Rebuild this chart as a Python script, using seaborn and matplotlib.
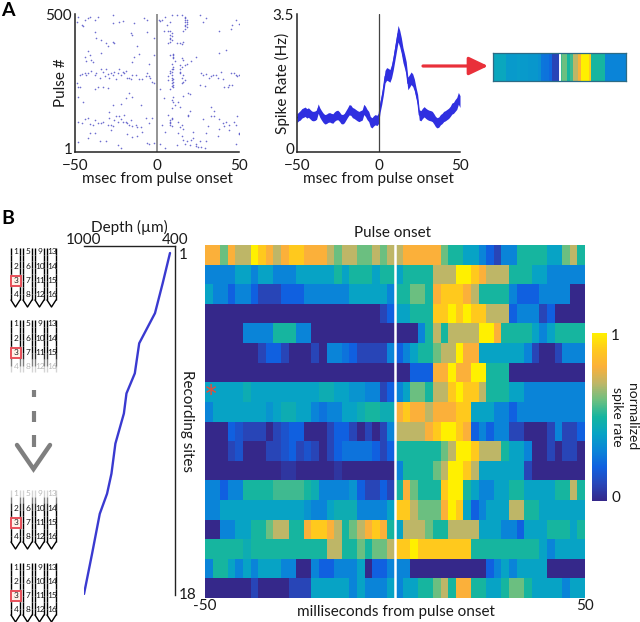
import numpy as np
import pandas as pd
import matplotlib
matplotlib.use("Agg")
import matplotlib.pyplot as plt
import seaborn as sns
from matplotlib.colors import LinearSegmentedColormap
from matplotlib.transforms import ScaledTranslation

W, H = 640, 622

# raster, panel A
spike_ms = [-49,-48,-46,-45,-44,-42,-41,-38,-36,-27,-27,-23,-21,-14,-8,-6,
    -38,-37,-34,-31,-27,-26,-16,-15,-12,-6,-2,-42,-44,-41,-40,-43,-39,-14,-15,-34,-30,-11,-5,-2,
    -47,-46,-42,-38,-37,-34,-33,-32,-30,-29,-28,-26,-25,-23,-22,-21,-20,-19,-18,-16,-15,-13,-11,-9,-7,-6,-5,-4,-3,-2,-44,-43,-40,-35,-31,-27,-24,-17,-49,-48,
    -47,-38,-36,-33,-30,-27,-22,-19,-17,-15,-10,-45,-48,-29,
    -48,-46,-42,-39,-36,-34,-33,-30,-29,-27,-25,-24,-22,-21,-20,-18,-17,-16,-15,-13,-12,-10,-7,-5,-3,-38,-41,-44,-28,-26,-19,-23,
    -42,-41,-35,-31,-28,-24,-22,-18,-12,-9,-6,-5,-2,-48,-38,-15,
    8,8,8,9,9,8,9,7,8,9,9,10,10,9,10,10,10,9,9,9,10,8,7,9,8,9,10,10,11,10,10,9,8,8,9,8,7,8,9,8,10,10,11,9,9,
    17,17,17,18,17,18,17,17,18,16,18,17,14,15,16,15,16,14,15,17,18,16,15,14,17,15,16,14,19,16,13,15,14,16,13,15,16,18,17,19,20,14,13,
    1,3,5,7,8,9,12,15,26,30,38,46,48,50,2,4,6,45,28,
    2,4,8,12,14,21,24,27,28,30,32,34,36,37,39,42,45,47,48,49,50,43,44,26,29,33,38,40,41,46,
    3,5,12,22,24,25,28,31,33,35,38,40,42,44,47,49,50,26,29,20,22,30,37,41,44,48,35,33,2,5,7,19,21,24,27,30,38,50,48,20]
spike_pulse = [470,490,462,455,478,485,490,480,488,495,468,472,474,468,484,478,
    435,415,405,395,400,395,430,425,385,435,415,365,345,350,335,330,325,345,325,360,385,355,320,350,
    280,282,285,278,285,300,290,275,282,270,285,290,265,300,280,290,285,295,270,265,280,280,265,265,275,285,275,270,255,250,285,280,295,270,300,280,285,268,250,235,
    235,230,235,235,232,170,175,195,215,200,170,180,200,145,
    110,105,125,100,105,105,108,100,125,95,130,110,120,110,135,105,100,118,95,100,90,92,125,105,125,115,102,120,98,115,110,130,
    50,70,40,42,80,28,15,65,60,75,35,30,35,38,70,55,
    105,110,115,95,120,100,125,275,285,270,260,255,245,250,300,310,235,290,280,300,265,295,260,240,230,320,345,350,330,340,355,420,425,440,430,400,395,410,405,415,200,180,170,190,160,
    490,478,470,465,458,452,445,460,480,440,472,485,395,390,400,340,335,300,310,315,320,280,270,285,260,250,255,290,215,205,110,100,90,85,70,60,45,40,30,135,150,165,180,
    480,478,490,440,470,495,495,495,495,485,440,460,480,465,475,440,462,445,470,
    230,195,350,395,315,330,345,285,280,282,270,280,280,270,290,370,285,285,280,275,278,235,242,245,240,275,360,265,235,245,
    100,75,25,50,30,20,120,95,130,130,120,105,110,100,110,130,65,40,15,25,75,70,60,95,80,100,150,165,30,15,135,130,45,22,18,40,85,70,30,210]

# mean spike rate, one value per ms from -50 to 50
rate_hz = [.86,.90,.93,.98,1.00,1.02,.98,1.00,.96,.92,
    .91,.92,.95,1.10,1.00,.93,.87,.83,.84,.87,
    .88,.86,.85,.90,.93,.94,.90,.84,.83,.86,
    .93,1.00,1.07,1.06,1.00,.98,.95,.92,.90,.92,
    .94,1.08,1.03,.95,.90,.77,.74,.79,.82,.80,
    .85,1.15,1.35,1.60,1.91,1.98,1.96,1.93,2.05,2.25,
    2.50,2.75,3.00,2.88,2.70,2.46,2.30,2.12,1.74,1.80,
    1.87,1.82,1.70,1.50,1.32,.94,.92,.98,1.02,.98,
    .95,.93,.92,.90,.84,.77,.74,.76,.82,.85,
    .90,.92,.95,.98,1.03,1.10,1.12,1.18,1.23,1.36,1.28]
rate_err = [.11,.11,.12,.12,.12,.12,.12,.12,.12,.12,
    .12,.12,.12,.12,.12,.12,.12,.12,.12,.12,
    .12,.12,.12,.12,.12,.12,.12,.12,.12,.12,
    .12,.12,.13,.13,.13,.13,.13,.13,.13,.13,
    .13,.13,.13,.13,.13,.13,.13,.13,.13,.13,
    .13,.14,.14,.15,.16,.16,.16,.16,.17,.18,
    .19,.20,.21,.21,.20,.19,.18,.17,.16,.16,
    .16,.16,.15,.14,.14,.13,.13,.13,.13,.13,
    .13,.13,.13,.13,.13,.13,.13,.13,.13,.13,
    .13,.13,.13,.13,.13,.14,.14,.15,.15,.15,.15]

# colour strip next to the arrow, levels 0-10
strip_levels = [4.2,4.2,4.2,4.2,4.2,3.7,3.7,3.7,3.7,3.8,3.7,3.7,3.7,3.6,3.6,3.6,3.6,3.4,2.6,2.5,2.5,2.2,1,1,1,
    5.5,6,6,5,5.5,7,7,8,10,10,10,9,5,5,5,5,5,3,3,3,3,3,3,3,3]

# depth of each recording site (um)
site_number = list(range(1, 19))
site_depth = [433,481,481,532,636,636,665,720,737,793,793,819,848,896,947,947,947,1000]

# heatmap rows, levels 0-10 (10 = normalized rate of 1), 50 bins per row
row01 = [8,8,6,8,7,7,10,9,8,7,8,9,9,8,8,8,7,6,7,7,6,6,7,6,7, 7,8,8,8,8,8,6,5,5,4,4,3,2,1,3,3,5,5,5,5,4,4,6,7,5]
row02 = [3,3,3,3,4,4,3,4,4,3,3,3,4,4,4,4,4,5,4,5,5,5,4,5,5, 4,5,5,5,5,7,7,7,10,10,9,8,7,7,7,5,5,5,4,4,3,3,3,3,3]
row03 = [4,3,3,2,3,3,2,1,1,1,2,2,2,3,3,3,3,3,3,4,4,4,4,4,3, 5,5,6,6,5,8,9,9,9,8,7,5,5,5,5,3,2,2,2,3,3,3,3,0,0]
row04 = [0,0,0,0,0,0,0,0,0,0,0,0,0,0,0,0,0,0,0,0,0,0,0,1,2, 4,4,5,5,5,9,9,10,9,10,9,9,7,7,7,2,3,3,3,1,2,0,0,0,0]
row05 = [0,0,0,0,0,3,3,3,3,5,5,5,3,3,0,0,0,0,0,0,0,0,0,0,0, 0,0,0,3,5,7,5,7,7,7,7,10,10,8,5,5,5,5,4,3,4,5,5,5,5]
row06 = [0,0,0,0,0,0,0,1,2,2,1,0,0,0,1,0,3,3,2.5,2,1,1,1,1,3, 2,3,4,5,5,6,7,7,10,8,8,4,4,4,4,4,4,3,1,0,0,1,3,3,3]
row07 = [0,0,0,0,0,0,0,0,0,0,0,0,0,0,0,0,0,0,0,0,0,0,0,0,0, 0,0,2,2,2,8,8,10,8,8,10,10,5,5,5,0,0,0,0,0,0,0,0,0,0]
row08 = [4,4,4,4,4,4.5,4,4,4,4,4,4,4,4,4,4.5,4.5,4,4,3.5,3.5,3,3,1,2, 3,4,6,6,5,7,7,9,10,9,9,7,5,5,5,4,4,3,3,3,3,3,3,3,3]
row09 = [3,4,4,4,4,4,4,4,3.5,4,4.5,4.5,4,4,3,2.5,3,3,4,4,4.5,5,5,4.5,4.5, 8,9,8,8,7,8,8,8,9,9,4,4,4,3,3,2,3,3,3,3,3,3,3,3,3]
row10 = [0,0,0,2,1.5,1,1,1,0,1,1.5,2,2,0,0,0,1,2,2,1,0,1,0,1,3, 7,7,7,7,8,9,10,10,9,8,2,3,2,3,3,1,1,0,0,0,1,3,1,1,2]
row11 = [0,0,0,1,1.5,0,0,0,1,1,1.5,2,1,1.5,1,0,1,2,2.5,2.5,2.5,2.5,2,1,2, 5,5,5,5,5,5,6,7,10,10,9,7,7,7,5,4,4,3,0,0,1,0,1,1,0]
row12 = [0,0,0,0,0,0,0,0,0,0,.5,.5,0,0,0,0,0,.5,0,0,0,0,0,0,0, 3,5,5,5,5,6,7,10,10,9,7,4,4,4,4,4,4,1,0,0,0,0,0,0,0]
row13 = [3,3,2,3,3,5,5,5,5,5.5,5.5,5.5,5.5,5,4.5,3,3,3,3,3.5,2,1,1,2,1, 5,8,6,5,5,5,9,10,10,5,4,3,3,4,4,5,5,4,4,4,4,5,5,7,5]
row14 = [3,3,4,4,4,4,4,4,4,4,4,4,4,3.5,3,3,4,4.5,4.5,4.5,3,3,3,3,4, 9,9,7,6,6,6,8,10,9,4,2,3,4,4,4,7,7,5,5,4,4,4,4,4,4]
row15 = [0,0,3,3,4,4,5,5,6,7,7,5,5,8,9,9,8,7,5,6,7,8,9,8,5, 4,7,7,7,6,5,5,7,7,7,7,4,4,4,3,3,2,4,4,4,5,5,5,4,5]
row16 = [5,5,5,5,5,4.5,5,5,5,5,5,5,5,5,5,5,7,7,5,5,6,5,6,6,7, 9,9,10,9,9,9,9,9,9,9,5,5,5,5,5,5,5,5,5,4,3,4,4,4,4]
row17 = [3,5,5,4,3,4,3,4,4,4,3,3,0,0,3,2,2,3,3,3,4,0,2,2,3, 3,3,0,0,0,0,0,0,0,0,0,0,2,3,4,3,4,4,4,4,0,0,0,0,0]
row18 = [0,0,0,0,0,0,1,0,0,0,0,1,1,1,4,4,4,4,4,3,4,3,3,3,4, 3,4,4,5,5,6,7,5,8,8,5,5,4,4,5,6,6,5,4,4,4,4,3,4,4]

heat_rows = [row01, row02, row03, row04, row05, row06, row07, row08, row09,
             row10, row11, row12, row13, row14, row15, row16, row17, row18]

level_colors = ['#35288a', '#2846b8', '#1060e0', '#0a85d8', '#07a3c5', '#14b5a0',
                '#6bbf80', '#bdb668', '#fbb03a', '#ffc81e', '#fff000']
rate_cmap = LinearSegmentedColormap.from_list('rate', level_colors)

sns.set_theme(style='white')
plt.rcParams['font.family'] = ['Lato', 'DejaVu Sans']
plt.rcParams['font.size'] = 11
plt.rcParams['text.color'] = '#1a1a1a'
plt.rcParams['axes.labelcolor'] = '#1a1a1a'
plt.rcParams['xtick.color'] = '#1a1a1a'
plt.rcParams['ytick.color'] = '#1a1a1a'

fig = plt.figure(figsize=(W / 100, H / 100), dpi=100)


def px_axes(left, top, right, bottom):
    # axes from pixel edges, measured from the top left of the picture
    return fig.add_axes([left / W, 1 - bottom / H, (right - left) / W, (bottom - top) / H])


def style_ab(ax):
    for side in ['top', 'right']:
        ax.spines[side].set_visible(False)
    for side in ['left', 'bottom']:
        ax.spines[side].set_linewidth(1.1)
        ax.spines[side].set_color('#222222')
    ax.patch.set_alpha(0)
    ax.tick_params(axis='x', length=0, pad=5, labelsize=11)
    ax.tick_params(axis='y', length=0, pad=2, labelsize=11)
    # lift the bottom y label clear of the -50 below it
    low = ax.get_yticklabels()[0]
    low.set_transform(low.get_transform() + ScaledTranslation(0, 4 / 100, fig.dpi_scale_trans))


# A, raster
ax1 = px_axes(75, 14, 239, 152)
sns.scatterplot(x=spike_ms, y=spike_pulse, ax=ax1, s=1.4, color='#4a4ac4', linewidth=0, alpha=0.8)
ax1.axvline(0, color='#777777', lw=1.1)
ax1.set_xlim(-50, 50)
ax1.set_ylim(1, 500)
ax1.set_xticks([-50, 0, 50])
ax1.set_yticks([1, 500])
ax1.set_xlabel('msec from pulse onset', fontsize=11, labelpad=-1)
ax1.set_ylabel('Pulse #', fontsize=11, labelpad=-16)
style_ab(ax1)

# A, spike rate
rate_x = np.arange(-50, 51)
rate_y = np.array(rate_hz)
rate_e = np.array(rate_err)
ax2 = px_axes(297, 14, 460, 152)
ax2.fill_between(rate_x, rate_y - rate_e, rate_y + rate_e, color='#2f2fe0', lw=0)
sns.lineplot(x=rate_x, y=rate_y, ax=ax2, color='#2f2fe0', lw=0.8, errorbar=None)
ax2.axvline(0, color='#444444', lw=0.9)
ax2.set_xlim(-50, 50)
ax2.set_ylim(0, 3.5)
ax2.set_xticks([-50, 0, 50])
ax2.set_yticks([0, 3.5])
ax2.set_yticklabels(['0', '3.5'])
ax2.set_xlabel('msec from pulse onset', fontsize=11, labelpad=-1)
ax2.set_ylabel('Spike Rate (Hz)', fontsize=11, labelpad=-12)
style_ab(ax2)

# A, one row as a colour strip
ax3 = px_axes(493, 53, 626, 81)
sns.heatmap(np.array([strip_levels]), ax=ax3, cmap=rate_cmap, vmin=0, vmax=10, cbar=False,
            xticklabels=False, yticklabels=False)
ax3.axvline(25, color='white', lw=1.4)
for side in ax3.spines.values():
    side.set_visible(True)
    side.set_color('#2c6b85')
    side.set_linewidth(0.9)

# B, depth profile
ax4 = px_axes(84, 246, 175, 595)
sns.lineplot(x=site_depth, y=site_number, ax=ax4, color='#3a3ad0', lw=1.7, errorbar=None, sort=False)
ax4.set_xlim(1000, 400)
ax4.set_ylim(18.05, 0.65)
ax4.xaxis.tick_top()
ax4.yaxis.tick_right()
ax4.set_xticks([1000, 400])
ax4.set_yticks([1, 18])
ax4.tick_params(axis='x', length=0, pad=-1, labelsize=11)
ax4.tick_params(axis='y', length=0, pad=3, labelsize=11)
ax4.xaxis.set_label_position('top')
ax4.yaxis.set_label_position('right')
ax4.set_xlabel('Depth (\u00b5m)', fontsize=11, labelpad=1)
ax4.set_ylabel('Recording sites', fontsize=11, rotation=270, labelpad=-2)
ax4.patch.set_alpha(0)
for side in ['left', 'bottom']:
    ax4.spines[side].set_visible(False)
for side in ['top', 'right']:
    ax4.spines[side].set_color('#222222')
    ax4.spines[side].set_linewidth(1)

# B, heatmap
ax5 = px_axes(205, 245, 585, 598)
cax = px_axes(592, 333, 607, 501)
sns.heatmap(pd.DataFrame(heat_rows), ax=ax5, cmap=rate_cmap, vmin=0, vmax=10, cbar_ax=cax,
            xticklabels=False, yticklabels=False)
ax5.axvline(25, color='white', lw=1.8)
cax.tick_params(length=0, labelright=False)
ax5.collections[0].colorbar.outline.set_visible(False)

# overlay in pixel coordinates for labels, arrow and probe icons
ov = fig.add_axes([0, 0, 1, 1], zorder=10)
ov.set_xlim(0, W)
ov.set_ylim(H, 0)
ov.axis('off')

ov.text(1, 10, 'A', fontsize=14, fontweight='bold', color='black', va='center')
ov.text(1, 218, 'B', fontsize=14, fontweight='bold', color='black', va='center')
ov.text(393, 233, 'Pulse onset', ha='center', va='center')
ov.text(205, 606, '-50', ha='center', va='center')
ov.text(585, 606, '50', ha='center', va='center')
ov.text(396, 612, 'milliseconds from pulse onset', ha='center', va='center')
ov.text(611, 336, '1', ha='left', va='center')
ov.text(611, 498, '0', ha='left', va='center')
ov.text(632, 417, 'normalized', rotation=270, ha='center', va='center', fontsize=10)
ov.text(617, 417, 'spike rate', rotation=270, ha='center', va='center', fontsize=10)
ov.text(211, 400, '*', color='#e0503c', fontsize=24, ha='center', va='center')

ov.annotate('', xy=(488, 66), xytext=(423, 66),
            arrowprops=dict(arrowstyle='-|>,head_length=1.05,head_width=0.5', color='#e9303a',
                            lw=2.3, shrinkA=0, shrinkB=0))

# dashed arrow between the probes
for y0, y1 in [(390, 397), (411, 422), (435, 447)]:
    ov.plot([33.5, 33.5], [y0, y1], color='#7f7f7f', lw=3, solid_capstyle='butt')
ov.plot([17, 33.5, 50], [445, 469, 445], color='#7f7f7f', lw=3.2, solid_joinstyle='miter')

shank_x = [11, 23, 35, 47]
shank_w = 9


def draw_probe(top, fade=None):
    # four shanks with site numbers, fade is 'top', 'bottom' or None
    body = 52
    n = 8
    for k, x0 in enumerate(shank_x):
        for side_x in [x0, x0 + shank_w]:
            for j in range(n):
                y0 = top + body * j / n
                y1 = top + body * (j + 1) / n
                a = 1.0
                if fade == 'top':
                    a = min(1, (j + 0.5) / 3)
                if fade == 'bottom':
                    a = min(1, (n - j - 0.5) / 3)
                ov.plot([side_x, side_x], [y0, y1], color='black', lw=1, alpha=a,
                        solid_capstyle='butt')
        if fade != 'bottom':
            ov.plot([x0, x0 + shank_w / 2, x0 + shank_w], [top + body, top + 59, top + body],
                    color='black', lw=1)
        for r in range(4):
            a = 1.0
            if fade == 'top' and r == 0:
                a = 0.3
            if fade == 'bottom' and r == 3:
                a = 0.3
            ov.text(x0 + shank_w / 2 + 0.5, top + 4 + 14.3 * r, str(k * 4 + r + 1), fontsize=6,
                    ha='center', va='center', alpha=a)
    ov.add_patch(plt.Rectangle((10.5, top + 28), 10, 10, fc='#fff0e8', ec='#e8505a', lw=1.4, zorder=2.5))


draw_probe(248)
draw_probe(320, fade='bottom')
draw_probe(490, fade='top')
draw_probe(563)

fig.savefig('out.png', dpi=100)
